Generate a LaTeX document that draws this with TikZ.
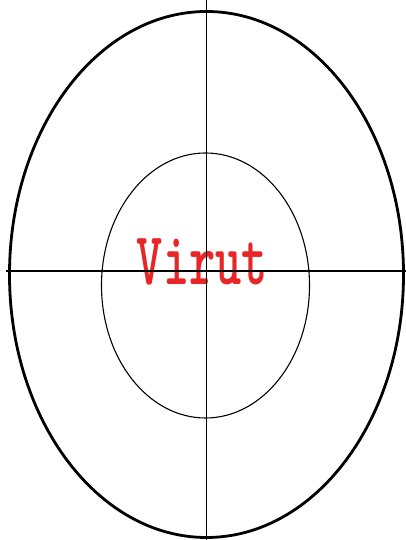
\documentclass[tikz,border=0pt]{standalone}
\usepackage{fontspec}
\definecolor{virutred}{RGB}{232,38,40}
\begin{document}
\begin{tikzpicture}[x=1pt,y=1pt]
      \useasboundingbox (0,0) rectangle (406,540);
      \coordinate (T) at (206.5,540);
      \coordinate (B) at (206.5,0);
      \coordinate (L) at (6,269);
      \coordinate (R) at (406,269);

      \draw[line width=2.8pt] (206.5,265.5) ellipse [x radius=197, y radius=263];
      \draw[line width=1.1pt] (205.5,254.5) ellipse [x radius=104, y radius=132.5];
      \node[anchor=base,inner sep=0pt,text=virutred] (V) at (202.5,255)
        {\scalebox{1}[1.5]{\fontsize{50}{50}\selectfont\ttfamily\bfseries Virut}};

      \draw[line width=1.6pt] (T) -- (B);
      \draw[line width=1.6pt] (L) -- (R);
    \end{tikzpicture}
\end{document}
